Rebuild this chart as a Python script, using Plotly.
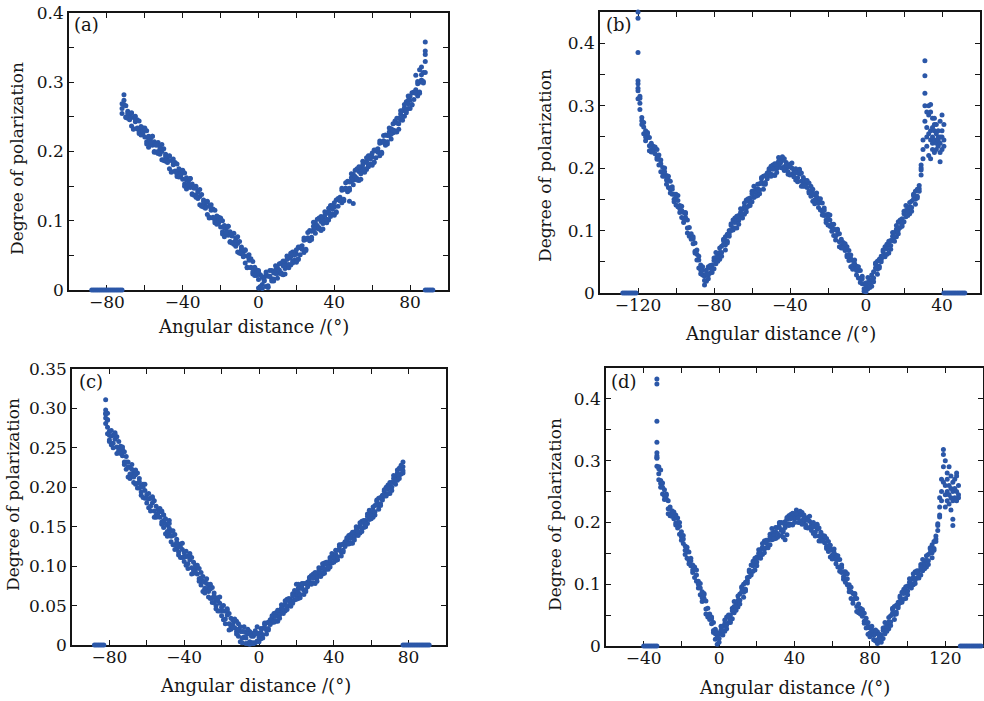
import plotly.graph_objects as go

# ---------------- Panel (a) ----------------
a_x = [-72, -71, -70, -69, -68, -67, -66, -65, -64, -63, -62, -61, -60, -59, -58, -57, -56, -55, -54, -53,
       -52, -51, -50, -49, -48, -47, -46, -45, -44, -43, -42, -41, -40, -39, -38, -37, -36, -35, -34, -33,
       -32, -31, -30, -29, -28, -27, -26, -25, -24, -23, -22, -21, -20, -19, -18, -17, -16, -15, -14, -13,
       -12, -11, -10, -9, -8, -7, -6, -5, -4, -3, -2, -1, 0, 1, 2, 3, 4, 5, 6, 7, 8, 9, 10, 11, 12, 13, 14,
       15, 16, 17, 18, 19, 20, 21, 22, 23, 24, 25, 26, 27, 28, 29, 30, 31, 32, 33, 34, 35, 36, 37, 38, 39,
       40, 41, 42, 43, 44, 45, 46, 47, 48, 49, 50, 51, 52, 53, 54, 55, 56, 57, 58, 59, 60, 61, 62, 63, 64,
       65, 66, 67, 68, 69, 70, 71, 72, 73, 74, 75, 76, 77, 78, 79, 80, 81, 82, 83, 84, 85, 86, 87, 88]
a_y1 = [0.262, 0.268,
        0.266, 0.248, 0.254, 0.237, 0.249, 0.251, 0.233, 0.226, 0.231, 0.234,
        0.221, 0.230, 0.206, 0.218, 0.209, 0.214, 0.199, 0.213, 0.196, 0.200,
        0.204, 0.186, 0.192, 0.175, 0.187, 0.189, 0.171, 0.164, 0.170, 0.173,
        0.160, 0.169, 0.146, 0.157, 0.148, 0.153, 0.137, 0.150, 0.132, 0.135,
        0.138, 0.120, 0.126, 0.109, 0.121, 0.123, 0.104, 0.097, 0.102, 0.105,
        0.091, 0.100, 0.077, 0.088, 0.079, 0.084, 0.068, 0.082, 0.063, 0.067,
        0.070, 0.052, 0.056, 0.039, 0.049, 0.051, 0.032, 0.023, 0.028, 0.029,
        0.015,
        0.022, 0.008, 0.018, 0.005, 0.020, 0.028, 0.015, 0.013, 0.024, 0.032,
        0.025, 0.039, 0.022, 0.039, 0.036, 0.046, 0.036, 0.055, 0.043, 0.052,
        0.062, 0.051, 0.064, 0.054, 0.073, 0.083, 0.073, 0.073, 0.087, 0.097,
        0.089, 0.104, 0.086, 0.104, 0.100, 0.111, 0.101, 0.122, 0.110, 0.120,
        0.130, 0.121, 0.134, 0.126, 0.145, 0.155, 0.144, 0.144, 0.157, 0.167,
        0.160, 0.175, 0.158, 0.176, 0.173, 0.184, 0.174, 0.194, 0.182, 0.192,
        0.202, 0.191, 0.204, 0.194, 0.213, 0.223, 0.211, 0.211, 0.223, 0.233,
        0.227, 0.244, 0.228, 0.248, 0.246, 0.259, 0.251, 0.272, 0.262, 0.274,
        0.285, 0.275, 0.289, 0.280, 0.300, 0.311, 0.301, 0.340]
a_y2 = [0.255, 0.282,
        0.249, 0.258, 0.249, 0.255, 0.233, 0.243, 0.246, 0.229, 0.236, 0.226,
        0.234, 0.214, 0.219, 0.210, 0.222, 0.200, 0.211, 0.200, 0.208, 0.188,
        0.187, 0.196, 0.187, 0.193, 0.171, 0.181, 0.184, 0.167, 0.175, 0.165,
        0.173, 0.153, 0.159, 0.149, 0.161, 0.139, 0.149, 0.137, 0.144, 0.123,
        0.121, 0.130, 0.121, 0.127, 0.105, 0.115, 0.117, 0.100, 0.107, 0.097,
        0.104, 0.084, 0.090, 0.080, 0.092, 0.070, 0.080, 0.069, 0.075, 0.055,
        0.053, 0.062, 0.051, 0.057, 0.033, 0.043, 0.045, 0.026, 0.033, 0.021,
        0.028,
        0.005, 0.018, 0.013, 0.023, 0.004, 0.020, 0.028, 0.016, 0.029, 0.024,
        0.038, 0.023, 0.035, 0.031, 0.049, 0.032, 0.048, 0.042, 0.055, 0.040,
        0.045, 0.061, 0.059, 0.072, 0.057, 0.075, 0.086, 0.076, 0.092, 0.089,
        0.102, 0.088, 0.099, 0.096, 0.113, 0.097, 0.113, 0.109, 0.122, 0.108,
        0.113, 0.131, 0.129, 0.144, 0.129, 0.147, 0.157, 0.147, 0.162, 0.159,
        0.173, 0.159, 0.171, 0.168, 0.186, 0.170, 0.186, 0.181, 0.194, 0.180,
        0.185, 0.201, 0.199, 0.212, 0.197, 0.215, 0.224, 0.214, 0.228, 0.225,
        0.240, 0.228, 0.241, 0.240, 0.259, 0.245, 0.263, 0.259, 0.274, 0.262,
        0.268, 0.285, 0.284, 0.298, 0.284, 0.303, 0.314, 0.358]
a_y3 = [0.269, 0.274, 0.250, 0.255, 0.246, 0.256, 0.232, 0.246, 0.234, 0.244,
        0.224, 0.229, 0.232, 0.211, 0.222, 0.213, 0.222, 0.199, 0.209, 0.197,
        0.205, 0.210, 0.188, 0.193, 0.184, 0.194, 0.170, 0.184, 0.172, 0.182,
        0.163, 0.168, 0.171, 0.150, 0.162, 0.152, 0.161, 0.138, 0.147, 0.134,
        0.141, 0.145, 0.122, 0.127, 0.118, 0.128, 0.104, 0.118, 0.105, 0.115,
        0.095, 0.100, 0.102, 0.081, 0.093, 0.083, 0.092, 0.069, 0.078, 0.066,
        0.072, 0.077, 0.054, 0.059, 0.048, 0.058, 0.032, 0.046, 0.033, 0.041,
        0.021, 0.024, 0.026, 0.004, 0.019, 0.014, 0.026, 0.006, 0.020, 0.013,
        0.025, 0.035, 0.017, 0.029, 0.025, 0.042, 0.023, 0.044, 0.037, 0.053,
        0.039, 0.050, 0.058, 0.044, 0.062, 0.060, 0.075, 0.059, 0.075, 0.071,
        0.085, 0.098, 0.082, 0.093, 0.090, 0.106, 0.088, 0.108, 0.102, 0.118,
        0.106, 0.117, 0.126, 0.112, 0.132, 0.130, 0.147, 0.131, 0.147, 0.142,
        0.156, 0.168, 0.152, 0.164, 0.161, 0.178, 0.160, 0.181, 0.175, 0.191,
        0.178, 0.189, 0.198, 0.184, 0.202, 0.200, 0.215, 0.199, 0.215, 0.209,
        0.223, 0.234, 0.218, 0.231, 0.230, 0.248, 0.232, 0.254, 0.250, 0.268,
        0.256, 0.269, 0.280, 0.267, 0.286, 0.285, 0.301, 0.286, 0.303, 0.299,
        0.314]
a_extra_x = [88, 88, 86, 85, 83, 79, 0, 2, 5, 48, 50]
a_extra_y = [0.345, 0.330, 0.322, 0.318, 0.310, 0.280, 0.003, 0.002, 0.004, 0.128, 0.125]
a_zero_x = [-88, -87, -86, -85, -84, -83, -82, -81, -80, -79, -78, -77, -76, -75, -74, -73, -72,
            88, 89, 90, 91, 92]

# ---------------- Panel (b) ----------------
b_x = [-120, -119, -118, -117, -116, -115, -114, -113, -112, -111, -110, -109, -108, -107, -106, -105,
       -104, -103, -102, -101, -100, -99, -98, -97, -96, -95, -94, -93, -92, -91, -90, -89, -88, -87,
       -86, -85, -84, -83, -82, -81, -80, -79, -78, -77, -76, -75, -74, -73, -72, -71, -70, -69, -68,
       -67, -66, -65, -64, -63, -62, -61, -60, -59, -58, -57, -56, -55, -54, -53, -52, -51, -50, -49,
       -48, -47, -46, -45, -44, -43, -42, -41, -40, -39, -38, -37, -36, -35, -34, -33, -32, -31, -30,
       -29, -28, -27, -26, -25, -24, -23, -22, -21, -20, -19, -18, -17, -16, -15, -14, -13, -12, -11,
       -10, -9, -8, -7, -6, -5, -4, -3, -2, -1, 0, 1, 2, 3, 4, 5, 6, 7, 8, 9, 10, 11, 12, 13, 14, 15,
       16, 17, 18, 19, 20, 21, 22, 23, 24, 25, 26, 27, 28, 29]
b_y1 = [0.328, 0.294, 0.281, 0.255, 0.260, 0.257, 0.236, 0.226, 0.230, 0.231,
        0.217, 0.221, 0.194, 0.201, 0.187, 0.188, 0.169, 0.179, 0.158, 0.158,
        0.158, 0.138, 0.140, 0.121, 0.129, 0.129, 0.104, 0.091, 0.090, 0.087,
        0.067, 0.069, 0.040, 0.045, 0.029, 0.027, 0.019, 0.042, 0.032, 0.045,
        0.056, 0.047, 0.062, 0.054, 0.075, 0.086, 0.077, 0.080, 0.095, 0.108,
        0.104, 0.120, 0.104, 0.124, 0.122, 0.134, 0.126, 0.149, 0.139, 0.152,
        0.163, 0.153, 0.166, 0.156, 0.175, 0.185, 0.174, 0.174, 0.187, 0.196,
        0.190, 0.205, 0.188, 0.207, 0.204, 0.215, 0.200, 0.215, 0.197, 0.202,
        0.206, 0.190, 0.197, 0.181, 0.194, 0.198, 0.179, 0.171, 0.175, 0.177,
        0.163, 0.171, 0.147, 0.157, 0.147, 0.151, 0.133, 0.144, 0.124, 0.125,
        0.126, 0.107, 0.110, 0.092, 0.101, 0.102, 0.082, 0.072, 0.076, 0.076,
        0.061, 0.068, 0.042, 0.052, 0.040, 0.043, 0.024, 0.036, 0.015, 0.015,
        0.016, 0.007, 0.020, 0.011, 0.034, 0.048, 0.038, 0.040, 0.054, 0.066,
        0.061, 0.078, 0.064, 0.084, 0.084, 0.097, 0.090, 0.114, 0.105, 0.119,
        0.131, 0.122, 0.135, 0.127, 0.147, 0.158, 0.150, 0.152, 0.167, 0.197]
b_y2 = [0.311, 0.304, 0.276, 0.273, 0.244, 0.249, 0.249, 0.229, 0.235, 0.223,
        0.230, 0.205, 0.207, 0.193, 0.200, 0.174, 0.181, 0.166, 0.170, 0.146,
        0.141, 0.148, 0.135, 0.139, 0.113, 0.121, 0.117, 0.094, 0.095, 0.079,
        0.080, 0.053, 0.053, 0.037, 0.042, 0.013, 0.031, 0.029, 0.044, 0.033,
        0.039, 0.057, 0.057, 0.072, 0.059, 0.078, 0.090, 0.083, 0.100, 0.100,
        0.117, 0.104, 0.117, 0.116, 0.135, 0.120, 0.138, 0.136, 0.151, 0.140,
        0.146, 0.163, 0.161, 0.174, 0.159, 0.177, 0.187, 0.177, 0.192, 0.188,
        0.203, 0.189, 0.201, 0.199, 0.217, 0.201, 0.212, 0.202, 0.209, 0.190,
        0.189, 0.200, 0.192, 0.199, 0.178, 0.190, 0.192, 0.174, 0.180, 0.169,
        0.176, 0.155, 0.160, 0.149, 0.160, 0.137, 0.145, 0.131, 0.136, 0.113,
        0.109, 0.117, 0.105, 0.110, 0.085, 0.094, 0.095, 0.075, 0.081, 0.068,
        0.074, 0.052, 0.055, 0.044, 0.053, 0.029, 0.036, 0.023, 0.027, 0.003,
        0.002, 0.017, 0.015, 0.029, 0.018, 0.040, 0.051, 0.043, 0.059, 0.058,
        0.074, 0.062, 0.077, 0.076, 0.097, 0.083, 0.102, 0.101, 0.117, 0.107,
        0.114, 0.132, 0.130, 0.145, 0.131, 0.150, 0.163, 0.155, 0.172, 0.189]
b_y3 = [0.324, 0.312, 0.270, 0.266, 0.250, 0.255, 0.228, 0.240, 0.226, 0.234,
        0.214, 0.214, 0.213, 0.187, 0.194, 0.181, 0.187, 0.160, 0.166, 0.150,
        0.154, 0.156, 0.129, 0.132, 0.119, 0.127, 0.096, 0.105, 0.086, 0.090,
        0.064, 0.062, 0.059, 0.031, 0.036, 0.020, 0.037, 0.023, 0.040, 0.037,
        0.052, 0.065, 0.051, 0.065, 0.065, 0.084, 0.069, 0.094, 0.091, 0.111,
        0.101, 0.113, 0.123, 0.110, 0.129, 0.127, 0.144, 0.130, 0.147, 0.144,
        0.159, 0.171, 0.155, 0.167, 0.165, 0.183, 0.166, 0.188, 0.183, 0.199,
        0.187, 0.198, 0.207, 0.193, 0.211, 0.208, 0.218, 0.196, 0.205, 0.194,
        0.202, 0.208, 0.186, 0.192, 0.184, 0.196, 0.171, 0.185, 0.171, 0.180,
        0.160, 0.164, 0.166, 0.143, 0.154, 0.144, 0.151, 0.125, 0.132, 0.117,
        0.122, 0.125, 0.099, 0.103, 0.091, 0.100, 0.074, 0.086, 0.072, 0.079,
        0.058, 0.061, 0.061, 0.038, 0.047, 0.036, 0.042, 0.017, 0.023, 0.007,
        0.012, 0.025, 0.009, 0.022, 0.024, 0.046, 0.030, 0.054, 0.050, 0.069,
        0.058, 0.071, 0.083, 0.070, 0.091, 0.090, 0.108, 0.095, 0.113, 0.111,
        0.127, 0.140, 0.124, 0.138, 0.137, 0.156, 0.142, 0.166, 0.163, 0.200]
b_extra_x = [-120, -120, -120, -120, -120, -119, 29, 30, 30, 30, 31, 31, 31, 31, 31, 32, 32, 32, 32,
             33, 33, 33, 33, 34, 34, 34, 34, 34, 35, 35, 35, 35, 35, 36, 36, 36, 36, 36, 37, 37, 37, 37,
             38, 38, 38, 38, 39, 39, 39, 39, 39, 40, 40, 40, 40, 41, 41, 41]
b_extra_y = [0.450, 0.440, 0.385, 0.340, 0.335, 0.315, 0.205, 0.215, 0.230, 0.245, 0.372, 0.348, 0.320,
             0.300, 0.275, 0.290, 0.265, 0.250, 0.235, 0.300, 0.285, 0.255, 0.220, 0.302, 0.290, 0.260,
             0.245, 0.215, 0.280, 0.265, 0.250, 0.240, 0.230, 0.280, 0.270, 0.260, 0.245, 0.225, 0.270,
             0.255, 0.240, 0.230, 0.260, 0.250, 0.245, 0.235, 0.275, 0.250, 0.240, 0.225, 0.210, 0.285,
             0.260, 0.250, 0.230, 0.270, 0.245, 0.235]
b_zero_x = [-128, -127, -126, -125, -124, -123, -122, -121,
            41, 42, 43, 44, 45, 46, 47, 48, 49, 50, 51, 52]

# ---------------- Panel (c) ----------------
c_x = [-82, -81, -80, -79, -78, -77, -76, -75, -74, -73, -72, -71, -70, -69, -68, -67, -66, -65, -64,
       -63, -62, -61, -60, -59, -58, -57, -56, -55, -54, -53, -52, -51, -50, -49, -48, -47, -46, -45,
       -44, -43, -42, -41, -40, -39, -38, -37, -36, -35, -34, -33, -32, -31, -30, -29, -28, -27, -26,
       -25, -24, -23, -22, -21, -20, -19, -18, -17, -16, -15, -14, -13, -12, -11, -10, -9, -8, -7, -6,
       -5, -4, -3, -2, -1, 0, 1, 2, 3, 4, 5, 6, 7, 8, 9, 10, 11, 12, 13, 14, 15, 16, 17, 18, 19, 20, 21,
       22, 23, 24, 25, 26, 27, 28, 29, 30, 31, 32, 33, 34, 35, 36, 37, 38, 39, 40, 41, 42, 43, 44, 45,
       46, 47, 48, 49, 50, 51, 52, 53, 54, 55, 56, 57, 58, 59, 60, 61, 62, 63, 64, 65, 66, 67, 68, 69,
       70, 71, 72, 73, 74, 75, 76, 77]
c_y1 = [0.298, 0.276, 0.271, 0.254, 0.266, 0.269, 0.251, 0.244, 0.247, 0.248,
        0.232, 0.239, 0.213, 0.225, 0.216, 0.220, 0.204, 0.218, 0.199, 0.202,
        0.204, 0.186, 0.191, 0.174, 0.186, 0.188, 0.170, 0.162, 0.167, 0.170,
        0.156, 0.165, 0.141, 0.152, 0.141, 0.145, 0.127, 0.140, 0.122, 0.126,
        0.128, 0.111, 0.117, 0.101, 0.113, 0.116, 0.098, 0.091, 0.096, 0.098,
        0.084, 0.092, 0.068, 0.080, 0.071, 0.075, 0.059, 0.073, 0.054, 0.058,
        0.060, 0.043, 0.048, 0.032, 0.043, 0.046, 0.027, 0.020, 0.026, 0.030,
        0.017, 0.027, 0.004, 0.017, 0.010, 0.016, 0.002, 0.017, 0.003, 0.011,
        0.018, 0.005, 0.015, 0.008, 0.021, 0.028, 0.019, 0.019, 0.029, 0.035,
        0.031, 0.041, 0.030, 0.044, 0.042, 0.050, 0.043, 0.058, 0.050, 0.057,
        0.065, 0.057, 0.066, 0.059, 0.072, 0.078, 0.069, 0.068, 0.077, 0.084,
        0.079, 0.090, 0.078, 0.091, 0.089, 0.097, 0.090, 0.104, 0.096, 0.104,
        0.111, 0.104, 0.113, 0.107, 0.120, 0.127, 0.118, 0.118, 0.128, 0.134,
        0.130, 0.140, 0.129, 0.143, 0.141, 0.149, 0.142, 0.157, 0.149, 0.158,
        0.166, 0.159, 0.168, 0.162, 0.177, 0.184, 0.177, 0.177, 0.187, 0.195,
        0.191, 0.203, 0.192, 0.206, 0.206, 0.214, 0.209, 0.224, 0.217, 0.226]
c_y2 = [0.281, 0.286, 0.266, 0.272, 0.250, 0.261, 0.264, 0.247, 0.252, 0.240,
        0.245, 0.223, 0.226, 0.217, 0.229, 0.206, 0.216, 0.205, 0.211, 0.190,
        0.187, 0.196, 0.186, 0.192, 0.170, 0.180, 0.183, 0.165, 0.172, 0.162,
        0.169, 0.149, 0.154, 0.144, 0.154, 0.131, 0.139, 0.127, 0.134, 0.114,
        0.111, 0.121, 0.112, 0.119, 0.097, 0.108, 0.111, 0.094, 0.101, 0.090,
        0.097, 0.076, 0.081, 0.072, 0.084, 0.061, 0.071, 0.060, 0.066, 0.046,
        0.043, 0.053, 0.043, 0.050, 0.027, 0.038, 0.040, 0.023, 0.031, 0.022,
        0.030, 0.011, 0.017, 0.009, 0.023, 0.002, 0.014, 0.004, 0.015, 0.002,
        0.003, 0.015, 0.010, 0.021, 0.009, 0.022, 0.028, 0.021, 0.032, 0.029,
        0.040, 0.030, 0.039, 0.038, 0.051, 0.040, 0.052, 0.049, 0.059, 0.049,
        0.053, 0.064, 0.063, 0.072, 0.060, 0.072, 0.078, 0.070, 0.080, 0.078,
        0.088, 0.079, 0.087, 0.085, 0.098, 0.087, 0.099, 0.095, 0.105, 0.096,
        0.099, 0.111, 0.110, 0.120, 0.108, 0.121, 0.127, 0.120, 0.131, 0.128,
        0.139, 0.129, 0.138, 0.137, 0.150, 0.139, 0.151, 0.148, 0.158, 0.150,
        0.154, 0.166, 0.165, 0.175, 0.165, 0.178, 0.186, 0.179, 0.190, 0.189,
        0.200, 0.192, 0.201, 0.200, 0.215, 0.204, 0.218, 0.215, 0.226, 0.218]
c_y3 = [0.294, 0.294, 0.260, 0.265, 0.256, 0.267, 0.243, 0.258, 0.243, 0.251,
        0.229, 0.232, 0.232, 0.211, 0.223, 0.213, 0.222, 0.199, 0.207, 0.194,
        0.200, 0.204, 0.180, 0.185, 0.176, 0.186, 0.162, 0.176, 0.163, 0.173,
        0.153, 0.158, 0.160, 0.138, 0.148, 0.138, 0.145, 0.121, 0.130, 0.118,
        0.124, 0.129, 0.106, 0.112, 0.103, 0.114, 0.090, 0.105, 0.092, 0.101,
        0.081, 0.085, 0.087, 0.066, 0.078, 0.068, 0.077, 0.054, 0.062, 0.050,
        0.056, 0.061, 0.037, 0.043, 0.033, 0.044, 0.019, 0.034, 0.022, 0.033,
        0.014, 0.020, 0.023, 0.003, 0.017, 0.009, 0.020, 0.002, 0.011, 0.003,
        0.014, 0.023, 0.004, 0.016, 0.013, 0.026, 0.014, 0.029, 0.026, 0.037,
        0.029, 0.036, 0.044, 0.034, 0.047, 0.045, 0.056, 0.045, 0.056, 0.052,
        0.062, 0.069, 0.058, 0.067, 0.064, 0.076, 0.064, 0.078, 0.074, 0.086,
        0.077, 0.085, 0.092, 0.081, 0.094, 0.092, 0.103, 0.091, 0.102, 0.099,
        0.108, 0.116, 0.105, 0.115, 0.112, 0.125, 0.113, 0.128, 0.125, 0.136,
        0.128, 0.135, 0.143, 0.133, 0.146, 0.144, 0.155, 0.144, 0.155, 0.153,
        0.163, 0.171, 0.160, 0.170, 0.169, 0.182, 0.172, 0.187, 0.184, 0.197,
        0.189, 0.198, 0.206, 0.196, 0.211, 0.209, 0.222, 0.211, 0.223, 0.221]
c_extra_x = [-82, -82, -82, -81, -81, -80, -52, -51, -48, 20, 21, 77, 76, -5, -3]
c_extra_y = [0.311, 0.293, 0.288, 0.285, 0.268, 0.258, 0.170, 0.165, 0.158, 0.077, 0.077, 0.232,
             0.228, 0.001, 0.002]
c_zero_x = [-88, -87, -86, -85, -84, -83,
            77, 78, 79, 80, 81, 82, 83, 84, 85, 86, 87, 88, 89, 90, 91]

# ---------------- Panel (d) ----------------
d_x = [-33, -32, -31, -30, -29, -28, -27, -26, -25, -24, -23, -22, -21, -20, -19, -18, -17, -16, -15,
       -14, -13, -12, -11, -10, -9, -8, -7, -6, -5, -4, -3, -2, -1, 0, 1, 2, 3, 4, 5, 6, 7, 8, 9, 10,
       11, 12, 13, 14, 15, 16, 17, 18, 19, 20, 21, 22, 23, 24, 25, 26, 27, 28, 29, 30, 31, 32, 33, 34,
       35, 36, 37, 38, 39, 40, 41, 42, 43, 44, 45, 46, 47, 48, 49, 50, 51, 52, 53, 54, 55, 56, 57, 58,
       59, 60, 61, 62, 63, 64, 65, 66, 67, 68, 69, 70, 71, 72, 73, 74, 75, 76, 77, 78, 79, 80, 81, 82,
       83, 84, 85, 86, 87, 88, 89, 90, 91, 92, 93, 94, 95, 96, 97, 98, 99, 100, 101, 102, 103, 104,
       105, 106, 107, 108, 109, 110, 111, 112, 113, 114, 115, 116, 117]
d_y1 = [0.308, 0.269, 0.268, 0.246, 0.253, 0.246, 0.222, 0.211, 0.214, 0.214,
        0.199, 0.207, 0.181, 0.185, 0.166, 0.162, 0.142, 0.152, 0.130, 0.131,
        0.128, 0.105, 0.105, 0.083, 0.088, 0.085, 0.060, 0.047, 0.047, 0.044,
        0.025, 0.027, 0.003, 0.020, 0.019, 0.032, 0.024, 0.047, 0.038, 0.050,
        0.061, 0.054, 0.069, 0.063, 0.084, 0.096, 0.087, 0.089, 0.106, 0.120,
        0.118, 0.137, 0.123, 0.144, 0.143, 0.156, 0.148, 0.170, 0.159, 0.171,
        0.181, 0.172, 0.184, 0.174, 0.192, 0.200, 0.187, 0.185, 0.196, 0.205,
        0.198, 0.213, 0.196, 0.214, 0.207, 0.214, 0.200, 0.216, 0.200, 0.204,
        0.208, 0.192, 0.198, 0.182, 0.194, 0.197, 0.178, 0.170, 0.174, 0.175,
        0.161, 0.169, 0.144, 0.155, 0.144, 0.147, 0.128, 0.140, 0.119, 0.120,
        0.120, 0.099, 0.099, 0.077, 0.085, 0.085, 0.064, 0.054, 0.056, 0.056,
        0.040, 0.045, 0.019, 0.029, 0.019, 0.024, 0.008, 0.023, 0.007, 0.018,
        0.029, 0.020, 0.035, 0.028, 0.049, 0.061, 0.051, 0.052, 0.066, 0.078,
        0.074, 0.092, 0.077, 0.097, 0.096, 0.108, 0.099, 0.120, 0.110, 0.122,
        0.132, 0.122, 0.136, 0.128, 0.148, 0.159, 0.151, 0.155, 0.173, 0.195,
        0.212]
d_y2 = [0.291, 0.279, 0.263, 0.264, 0.237, 0.238, 0.235, 0.214, 0.219, 0.206,
        0.212, 0.191, 0.194, 0.177, 0.179, 0.148, 0.154, 0.139, 0.142, 0.119,
        0.111, 0.115, 0.100, 0.101, 0.072, 0.077, 0.073, 0.050, 0.052, 0.036,
        0.038, 0.011, 0.016, 0.012, 0.032, 0.018, 0.036, 0.034, 0.050, 0.038,
        0.044, 0.064, 0.064, 0.081, 0.068, 0.088, 0.100, 0.092, 0.111, 0.112,
        0.131, 0.121, 0.136, 0.136, 0.156, 0.142, 0.160, 0.157, 0.171, 0.159,
        0.164, 0.182, 0.179, 0.192, 0.176, 0.192, 0.200, 0.188, 0.201, 0.197,
        0.211, 0.197, 0.209, 0.206, 0.220, 0.200, 0.212, 0.203, 0.212, 0.192,
        0.191, 0.202, 0.193, 0.200, 0.178, 0.189, 0.191, 0.173, 0.179, 0.167,
        0.174, 0.153, 0.157, 0.147, 0.157, 0.133, 0.140, 0.127, 0.131, 0.108,
        0.103, 0.109, 0.094, 0.095, 0.069, 0.077, 0.077, 0.057, 0.061, 0.048,
        0.053, 0.029, 0.032, 0.021, 0.032, 0.010, 0.020, 0.010, 0.019, 0.006,
        0.012, 0.030, 0.030, 0.046, 0.033, 0.053, 0.064, 0.055, 0.071, 0.070,
        0.087, 0.076, 0.090, 0.089, 0.109, 0.094, 0.111, 0.107, 0.122, 0.110,
        0.115, 0.132, 0.131, 0.146, 0.132, 0.151, 0.164, 0.158, 0.178, 0.187,
        0.225]
d_y3 = [0.304, 0.287, 0.257, 0.257, 0.243, 0.244, 0.214, 0.225, 0.210, 0.217,
        0.196, 0.200, 0.200, 0.171, 0.173, 0.155, 0.160, 0.133, 0.138, 0.123,
        0.124, 0.123, 0.094, 0.094, 0.078, 0.083, 0.052, 0.061, 0.043, 0.047,
        0.022, 0.020, 0.022, 0.006, 0.026, 0.025, 0.042, 0.028, 0.046, 0.042,
        0.057, 0.072, 0.058, 0.074, 0.074, 0.094, 0.079, 0.103, 0.102, 0.123,
        0.115, 0.130, 0.142, 0.130, 0.150, 0.149, 0.166, 0.151, 0.167, 0.163,
        0.177, 0.190, 0.173, 0.185, 0.182, 0.198, 0.179, 0.199, 0.192, 0.208,
        0.195, 0.206, 0.215, 0.200, 0.214, 0.207, 0.218, 0.197, 0.208, 0.196,
        0.204, 0.210, 0.187, 0.193, 0.184, 0.195, 0.170, 0.184, 0.170, 0.178,
        0.158, 0.162, 0.163, 0.141, 0.151, 0.140, 0.146, 0.121, 0.127, 0.112,
        0.116, 0.117, 0.088, 0.088, 0.075, 0.083, 0.056, 0.068, 0.052, 0.059,
        0.037, 0.038, 0.038, 0.015, 0.026, 0.017, 0.026, 0.004, 0.015, 0.010,
        0.025, 0.038, 0.024, 0.039, 0.039, 0.059, 0.043, 0.066, 0.062, 0.081,
        0.071, 0.085, 0.096, 0.083, 0.103, 0.101, 0.117, 0.101, 0.118, 0.114,
        0.128, 0.140, 0.125, 0.139, 0.138, 0.157, 0.143, 0.169, 0.169, 0.198,
        0.209]
d_extra_x = [-33, -33, -33, -33, -33, -33, -32, -31, 35, 34, 36,
             117, 118, 118, 118, 119, 119, 119, 119, 120, 120, 120, 120, 121, 121, 121, 121,
             122, 122, 122, 122, 123, 123, 123, 123, 124, 124, 124, 124, 124, 125, 125, 125,
             126, 126, 126, 126, 127, 127, 127]
d_extra_y = [0.432, 0.424, 0.364, 0.330, 0.313, 0.305, 0.290, 0.285, 0.172, 0.176, 0.180,
             0.240, 0.235, 0.250, 0.270, 0.318, 0.310, 0.290, 0.265, 0.300, 0.260, 0.245, 0.225,
             0.280, 0.270, 0.250, 0.235, 0.290, 0.260, 0.245, 0.230, 0.275, 0.255, 0.240, 0.220,
             0.265, 0.250, 0.235, 0.205, 0.195, 0.270, 0.255, 0.240, 0.280, 0.275, 0.250, 0.235,
             0.260, 0.245, 0.240]
d_zero_x = [-40, -39, -38, -37, -36, -35, -34, -33,
            128, 129, 130, 131, 132, 133, 134, 135, 136, 137, 138, 139]

# ---------------- Axis tick labels ----------------
a_xticks = [-80, -40, 0, 40, 80]
b_xticks = [-120, -80, -40, 0, 40]
c_xticks = [-80, -40, 0, 40, 80]
d_xticks = [-40, 0, 40, 80, 120]
y_ticks_01 = [0, 0.1, 0.2, 0.3, 0.4]
y_ticktext_01 = ["0", "0.1", "0.2", "0.3", "0.4"]
c_yticks = [0, 0.05, 0.10, 0.15, 0.20, 0.25, 0.30, 0.35]
c_yticktext = ["0", "0.05", "0.10", "0.15", "0.20", "0.25", "0.30", "0.35"]

panel_labels = ["(a)", "(b)", "(c)", "(d)"]
x_title = "Angular distance /(°)"
y_title = "Degree of polarization"

COLOR = "#2b57a8"
FONT = "DejaVu Serif"
INK = "#151515"
W, H = 984, 701

fig = go.Figure()

panels = [
    (a_x, a_y1, a_y2, a_y3, a_extra_x, a_extra_y, a_zero_x, "x", "y"),
    (b_x, b_y1, b_y2, b_y3, b_extra_x, b_extra_y, b_zero_x, "x2", "y2"),
    (c_x, c_y1, c_y2, c_y3, c_extra_x, c_extra_y, c_zero_x, "x3", "y3"),
    (d_x, d_y1, d_y2, d_y3, d_extra_x, d_extra_y, d_zero_x, "x4", "y4"),
]
for px, py1, py2, py3, ex, ey, zx, xa, ya in panels:
    xs = list(px) + list(px) + list(px) + list(ex) + list(zx)
    ys = list(py1) + list(py2) + list(py3) + list(ey) + [0] * len(zx)
    fig.add_trace(go.Scatter(x=xs, y=ys, mode="markers", xaxis=xa, yaxis=ya,
                             marker=dict(color=COLOR, size=5, line=dict(width=0)),
                             cliponaxis=False, showlegend=False, hoverinfo="skip"))


def px2x(p):
    return p / W


def px2y(p):
    return 1 - p / H


axis_common = dict(showline=True, linecolor=INK, linewidth=1.5, mirror="ticks",
                   ticks="inside", ticklen=5, tickwidth=1, tickcolor=INK,
                   showgrid=False, zeroline=False, layer="below traces", automargin=False,
                   tickfont=dict(family=FONT, size=17, color=INK))

# pixel boxes: (left, right, top, bottom)
boxes = [(69, 448, 13, 290), (600, 980, 12, 293), (72, 446, 369, 645), (606, 983, 368, 646)]
xranges = [[-100, 100], [-140, 60], [-100, 100], [-60, 140]]
yranges = [[0, 0.4], [0, 0.45], [0, 0.35], [0, 0.45]]
xtickss = [a_xticks, b_xticks, c_xticks, d_xticks]
xminor = [[-100, -60, -20, 20, 60, 100], [-140, -100, -60, -20, 20, 60],
          [-100, -60, -20, 20, 60, 100], [-60, -20, 20, 60, 100, 140]]
ytick_sets = [(y_ticks_01, y_ticktext_01, [0.05, 0.15, 0.25, 0.35]),
              (y_ticks_01, y_ticktext_01, [0.05, 0.15, 0.25, 0.35, 0.45]),
              (c_yticks, c_yticktext, []),
              (y_ticks_01, y_ticktext_01, [0.05, 0.15, 0.25, 0.35, 0.45])]

layout = dict(width=W, height=H, margin=dict(l=0, r=0, t=0, b=0, autoexpand=False),
              paper_bgcolor="white", plot_bgcolor="white", showlegend=False)
names = ["", "2", "3", "4"]
for i, n in enumerate(names):
    l, r, t, b = boxes[i]
    yt, ytt, ymin = ytick_sets[i]
    layout["xaxis" + n] = dict(axis_common, domain=[px2x(l), px2x(r)], range=xranges[i],
                               anchor="y" + n, tickmode="array", tickvals=xtickss[i],
                               ticktext=[str(v).replace("-", "\u2212") for v in xtickss[i]],
                               ticklabelstandoff=-4,
                               minor=dict(tickmode="array", tickvals=xminor[i], ticks="inside",
                                          ticklen=5, tickcolor=INK))
    layout["yaxis" + n] = dict(axis_common, domain=[px2y(b), px2y(t)], range=yranges[i],
                               anchor="x" + n, tickmode="array", tickvals=yt, ticktext=ytt,
                               minor=dict(tickmode="array", tickvals=ymin, ticks="inside",
                                          ticklen=5, tickcolor=INK))
fig.update_layout(**layout)

# panel labels
label_pos = [(72, 24), (604, 24), (77, 381), (609, 381)]
for lab, (x, y) in zip(panel_labels, label_pos):
    fig.add_annotation(text=lab, xref="paper", yref="paper", x=px2x(x), y=px2y(y),
                       xanchor="left", yanchor="middle", showarrow=False,
                       font=dict(family=FONT, size=18, color=INK))
# x titles
for (x, y) in [(253, 327), (780, 333), (255, 685), (794, 687)]:
    fig.add_annotation(text=x_title, xref="paper", yref="paper", x=px2x(x), y=px2y(y),
                       xanchor="center", yanchor="middle", showarrow=False,
                       font=dict(family=FONT, size=18, color=INK))
# y titles
for (x, y) in [(17, 159), (545, 166), (13, 495), (555, 515)]:
    fig.add_annotation(text=y_title, xref="paper", yref="paper", x=px2x(x), y=px2y(y),
                       xanchor="center", yanchor="middle", showarrow=False, textangle=-90,
                       font=dict(family=FONT, size=17, color=INK))

fig.write_html("out.html", config={"displayModeBar": False},
               post_script="document.body.style.margin='0px';document.body.style.overflow='hidden';")
